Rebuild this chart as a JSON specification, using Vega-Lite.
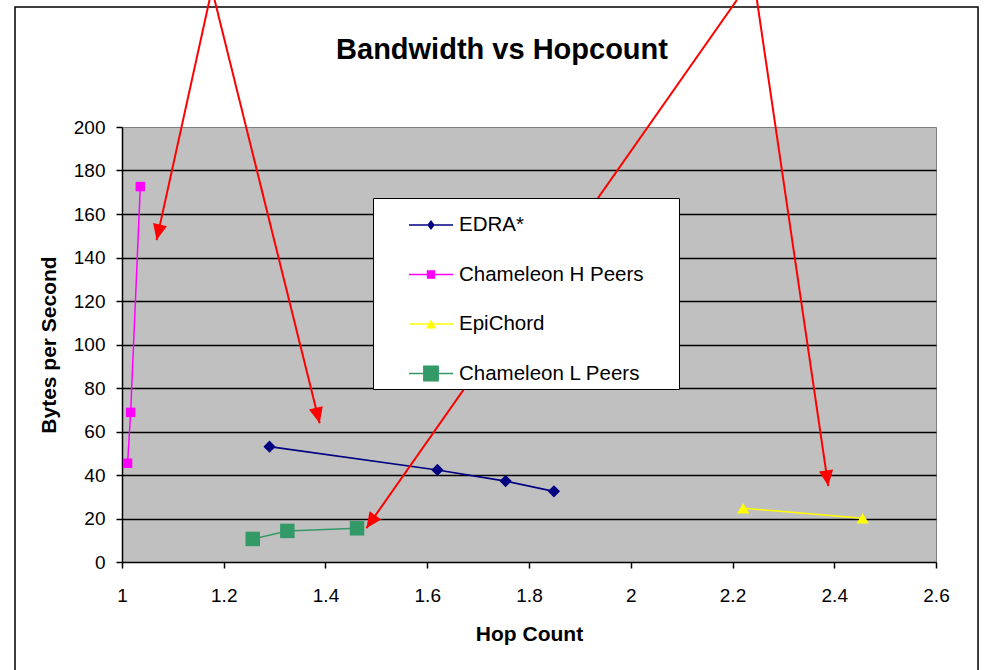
{
  "$schema": "https://vega.github.io/schema/vega-lite/v6.json",
  "width": 814,
  "height": 435,
  "autosize": {"type": "none"},
  "padding": {"left": 122, "top": 127, "right": 52, "bottom": 108},
  "background": "white",
  "title": {"text": "Bandwidth vs Hopcount", "fontSize": 29, "font": "Liberation Sans", "fontWeight": "bold", "color": "black", "anchor": "middle", "frame": "group", "dx": -27, "offset": -89, "baseline": "alphabetic"},
  "config": {
    "view": {"fill": "#c0c0c0", "stroke": "#808080", "strokeWidth": 1},
    "font": "Liberation Sans",
    "axis": {"labelFont": "Liberation Sans", "titleFont": "Liberation Sans", "labelColor": "black", "titleColor": "black", "domainColor": "black", "domainWidth": 1.5, "tickColor": "black", "tickWidth": 1.5, "tickSize": 6, "labelFontSize": 19, "titleFontSize": 21, "titleFontWeight": "bold", "labelFlush": false, "labelOverlap": false},
    "legend": {"orient": "none", "legendX": 251, "legendY": 71, "fillColor": "white", "strokeColor": "black", "padding": 5, "title": null, "labelFont": "Liberation Sans", "labelFontSize": 20.5, "labelColor": "black", "symbolSize": 1936, "symbolStrokeWidth": 0, "symbolOpacity": 1, "symbolOffset": 31, "labelOffset": 6, "rowPadding": 16.5, "labelLimit": 400}
  },
  "datasets": {
    "pts": [
      {"series": "EDRA*", "hop": 1.29, "bw": 53.0},
      {"series": "EDRA*", "hop": 1.62, "bw": 42.3},
      {"series": "EDRA*", "hop": 1.754, "bw": 37.2},
      {"series": "EDRA*", "hop": 1.849, "bw": 32.5},
      {"series": "Chameleon H Peers", "hop": 1.011, "bw": 45.4},
      {"series": "Chameleon H Peers", "hop": 1.017, "bw": 68.8},
      {"series": "Chameleon H Peers", "hop": 1.036, "bw": 172.6},
      {"series": "EpiChord", "hop": 2.221, "bw": 24.7},
      {"series": "EpiChord", "hop": 2.456, "bw": 20.1},
      {"series": "Chameleon L Peers", "hop": 1.257, "bw": 10.6},
      {"series": "Chameleon L Peers", "hop": 1.325, "bw": 14.3},
      {"series": "Chameleon L Peers", "hop": 1.462, "bw": 15.5}
    ],
    "arrows": [
      {"id": 1, "xs": 1.172, "ys": 258.4, "xe": 1.068, "ye": 148.0},
      {"id": 2, "xs": 1.182, "ys": 258.4, "xe": 1.3885, "ye": 63.8},
      {"id": 3, "xs": 2.2087, "ys": 258.4, "xe": 1.4803, "ye": 15.5},
      {"id": 4, "xs": 2.248, "ys": 258.4, "xe": 2.3883, "ye": 34.9}
    ]
  },
  "data": {"name": "pts"},
  "layer": [
    {
      "transform": [{"filter": "datum.series === 'EDRA*'"}],
      "mark": {"type": "line", "strokeWidth": 1.75, "color": "#000080", "point": {"shape": "diamond", "filled": true, "size": 150, "color": "#000080", "opacity": 1}},
      "encoding": {
        "x": {"field": "hop", "type": "quantitative", "scale": {"domain": [1, 2.6], "nice": false, "zero": false},
          "axis": {"values": [1, 1.2, 1.4, 1.6, 1.8, 2, 2.2, 2.4, 2.6], "format": "~g", "grid": false, "title": "Hop Count", "labelPadding": 18, "titlePadding": 18}},
        "y": {"field": "bw", "type": "quantitative", "scale": {"domain": [0, 200], "nice": false, "zero": false},
          "axis": {"values": [0, 20, 40, 60, 80, 100, 120, 140, 160, 180, 200], "grid": true, "gridColor": {"condition": {"test": "datum.value >= 200 || datum.value <= 0", "value": "transparent"}, "value": "black"}, "gridWidth": 1.5, "title": "Bytes per Second", "labelPadding": 11, "titlePadding": 14}}
      }
    },
    {
      "transform": [{"filter": "datum.series === 'Chameleon H Peers'"}],
      "mark": {"type": "line", "strokeWidth": 1.5, "color": "#ff00ff", "point": {"shape": "square", "filled": true, "size": 90, "color": "#ff00ff", "opacity": 1}},
      "encoding": {
        "x": {"field": "hop", "type": "quantitative", "scale": {"domain": [1, 2.6], "nice": false, "zero": false}},
        "y": {"field": "bw", "type": "quantitative", "scale": {"domain": [0, 200], "nice": false, "zero": false}}
      }
    },
    {
      "transform": [{"filter": "datum.series === 'EpiChord'"}],
      "mark": {"type": "line", "strokeWidth": 1.5, "color": "#ffff00", "point": {"shape": "triangle-up", "filled": true, "size": 150, "color": "#ffff00", "opacity": 1}},
      "encoding": {
        "x": {"field": "hop", "type": "quantitative", "scale": {"domain": [1, 2.6], "nice": false, "zero": false}},
        "y": {"field": "bw", "type": "quantitative", "scale": {"domain": [0, 200], "nice": false, "zero": false}}
      }
    },
    {
      "transform": [{"filter": "datum.series === 'Chameleon L Peers'"}],
      "mark": {"type": "line", "strokeWidth": 1.5, "color": "#339966", "point": {"shape": "square", "filled": true, "size": 210, "color": "#339966", "opacity": 1}},
      "encoding": {
        "x": {"field": "hop", "type": "quantitative", "scale": {"domain": [1, 2.6], "nice": false, "zero": false}},
        "y": {"field": "bw", "type": "quantitative", "scale": {"domain": [0, 200], "nice": false, "zero": false}}
      }
    },
    {
      "mark": {"type": "point", "filled": true, "opacity": 0},
      "encoding": {
        "x": {"field": "hop", "type": "quantitative", "scale": {"domain": [1, 2.6], "nice": false, "zero": false}},
        "y": {"field": "bw", "type": "quantitative", "scale": {"domain": [0, 200], "nice": false, "zero": false}},
        "color": {"field": "series", "type": "nominal", "scale": {"domain": ["EDRA*", "Chameleon H Peers", "EpiChord", "Chameleon L Peers"], "range": ["#000080", "#ff00ff", "#ffff00", "#339966"]},
          "legend": {"labelExpr": "datum.label + '\u2800\u2800'"}},
        "shape": {"field": "series", "type": "nominal", "scale": {"domain": ["EDRA*", "Chameleon H Peers", "EpiChord", "Chameleon L Peers"], "range": [
          "M-1,-0.034L1,-0.034L1,0.034L-1,0.034ZM0,-0.23L0.17,0L0,0.23L-0.17,0Z",
          "M-1,-0.034L1,-0.034L1,0.034L-1,0.034ZM-0.19,-0.19L0.19,-0.19L0.19,0.19L-0.19,0.19Z",
          "M-1,-0.034L1,-0.034L1,0.034L-1,0.034ZM0,-0.2L0.23,0.2L-0.23,0.2Z",
          "M-1,-0.034L1,-0.034L1,0.034L-1,0.034ZM-0.36,-0.36L0.36,-0.36L0.36,0.36L-0.36,0.36Z"]},
          "legend": {"labelExpr": "datum.label + '\u2800\u2800'"}}
      }
    },
    {
      "data": {"values": [{}]},
      "mark": {"type": "rect", "fill": "transparent", "stroke": "black", "strokeWidth": 1.5},
      "encoding": {
        "x": {"datum": 0.7897, "type": "quantitative", "scale": {"domain": [1, 2.6], "nice": false, "zero": false}},
        "x2": {"datum": 2.6826},
        "y": {"datum": 255.2, "type": "quantitative", "scale": {"domain": [0, 200], "nice": false, "zero": false}},
        "y2": {"datum": -54}
      }
    },
    {
      "data": {"name": "arrows"},
      "mark": {"type": "rule", "color": "#ff0000", "strokeWidth": 2},
      "encoding": {
        "x": {"field": "xs", "type": "quantitative", "scale": {"domain": [1, 2.6], "nice": false, "zero": false}},
        "y": {"field": "ys", "type": "quantitative", "scale": {"domain": [0, 200], "nice": false, "zero": false}},
        "x2": {"field": "xe"},
        "y2": {"field": "ye"}
      }
    },
    {
      "data": {"name": "arrows"},
      "transform": [{"filter": "datum.id === 1"}],
      "mark": {"type": "point", "shape": "M0,0L-0.45,1L0.45,1Z", "size": 1000, "filled": true, "color": "#ff0000", "opacity": 1, "angle": 192.5},
      "encoding": {
        "x": {"field": "xe", "type": "quantitative", "scale": {"domain": [1, 2.6], "nice": false, "zero": false}},
        "y": {"field": "ye", "type": "quantitative", "scale": {"domain": [0, 200], "nice": false, "zero": false}}
      }
    },
    {
      "data": {"name": "arrows"},
      "transform": [{"filter": "datum.id === 2"}],
      "mark": {"type": "point", "shape": "M0,0L-0.45,1L0.45,1Z", "size": 1000, "filled": true, "color": "#ff0000", "opacity": 1, "angle": 166.1},
      "encoding": {
        "x": {"field": "xe", "type": "quantitative", "scale": {"domain": [1, 2.6], "nice": false, "zero": false}},
        "y": {"field": "ye", "type": "quantitative", "scale": {"domain": [0, 200], "nice": false, "zero": false}}
      }
    },
    {
      "data": {"name": "arrows"},
      "transform": [{"filter": "datum.id === 3"}],
      "mark": {"type": "point", "shape": "M0,0L-0.45,1L0.45,1Z", "size": 1000, "filled": true, "color": "#ff0000", "opacity": 1, "angle": 215.0},
      "encoding": {
        "x": {"field": "xe", "type": "quantitative", "scale": {"domain": [1, 2.6], "nice": false, "zero": false}},
        "y": {"field": "ye", "type": "quantitative", "scale": {"domain": [0, 200], "nice": false, "zero": false}}
      }
    },
    {
      "data": {"name": "arrows"},
      "transform": [{"filter": "datum.id === 4"}],
      "mark": {"type": "point", "shape": "M0,0L-0.45,1L0.45,1Z", "size": 1000, "filled": true, "color": "#ff0000", "opacity": 1, "angle": 171.7},
      "encoding": {
        "x": {"field": "xe", "type": "quantitative", "scale": {"domain": [1, 2.6], "nice": false, "zero": false}},
        "y": {"field": "ye", "type": "quantitative", "scale": {"domain": [0, 200], "nice": false, "zero": false}}
      }
    }
  ]
}
